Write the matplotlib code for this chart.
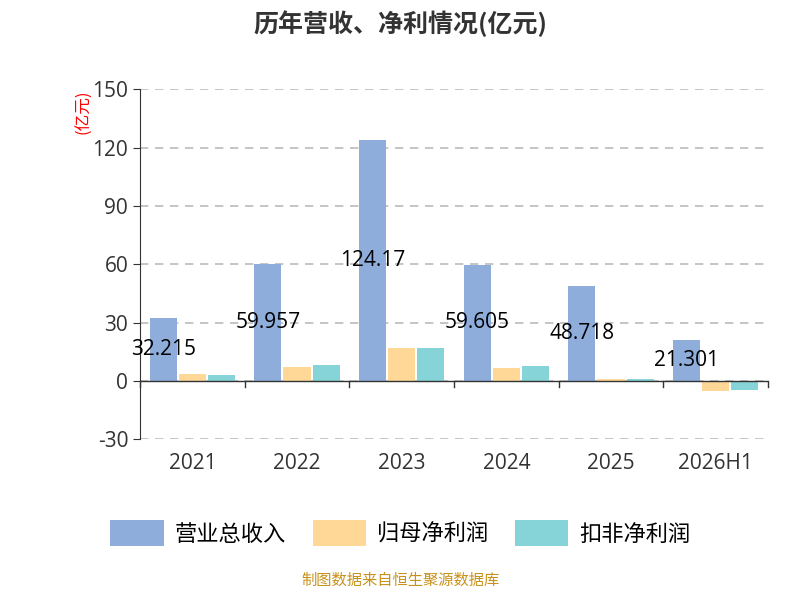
import matplotlib
matplotlib.use("Agg")
import matplotlib.pyplot as plt
import numpy as np

plt.rcParams['font.family'] = ['Open Sans', 'Noto Sans CJK SC', 'DejaVu Sans']
plt.rcParams['axes.unicode_minus'] = False

categories = ["2021", "2022", "2023", "2024", "2025", "2026H1"]
revenue = [32.215, 59.957, 124.17, 59.605, 48.718, 21.301]
net_profit = [3.6, 7.2, 17.0, 6.7, 1.2, -5.0]
deducted_profit = [3.1, 8.2, 17.0, 7.5, 1.2, -4.6]
series_names = ["营业总收入", "归母净利润", "扣非净利润"]
colors = ["#8eaddb", "#ffd898", "#86d4d8"]

fig = plt.figure(figsize=(8, 6), dpi=100)
ax = fig.add_axes([0.175, 0.268, 0.785, 0.583])
x = np.arange(len(categories))
w = 0.26
for i, (vals, name, c) in enumerate(zip([revenue, net_profit, deducted_profit], series_names, colors)):
    ax.bar(x + (i - 1) * w * 1.07, vals, w, color=c, label=name, zorder=3)
for xi, v in zip(x, revenue):
    ax.text(xi - w * 1.07, v / 2, f"{v:g}", ha="center", va="center", fontsize=15, color="black", zorder=4)

ax.set_xlim(-0.5, 5.5)
ax.set_ylim(-30, 150)
ax.set_yticks(range(-30, 151, 30))
ax.tick_params(axis="y", labelsize=15, colors="#333333", length=5)
ax.tick_params(axis="x", labelsize=15, colors="#333333", length=0, pad=10)
ax.set_xticks(x)
ax.set_xticklabels(categories)
ax.grid(axis="y", linestyle=(0, (5, 4)), color="#bbbbbb", lw=1.2, zorder=0)
for s in ["top", "right", "bottom"]:
    ax.spines[s].set_visible(False)
ax.spines["left"].set_color("#333333")
ax.axhline(0, color="#333333", lw=1, zorder=5)
for b in np.arange(-0.5, 5.6, 1):
    ax.plot([b, b], [0, -3], color="#333333", lw=1, clip_on=False, zorder=5)
ax.text(-0.09, 1.0, "(亿元)", transform=ax.transAxes, rotation=90, color="red", fontsize=12, ha="center", va="top",
        family=['Noto Sans CJK SC'])

fig.text(0.5, 0.96, "历年营收、净利情况(亿元)", ha="center", va="center", fontsize=18, fontweight="bold", color="#333333",
         family=['Noto Sans CJK SC'])
leg = ax.legend(loc="upper center", bbox_to_anchor=(0.415, -0.175), ncol=3, frameon=False,
                prop={'family': 'Noto Sans CJK SC', 'size': 16},
                handlelength=2.4, handleheight=1.4, columnspacing=1.2, handletextpad=0.5)
fig.text(0.5, 0.018, "制图数据来自恒生聚源数据库", ha="center", va="bottom", fontsize=11, color="#c8921a",
         family=['Noto Sans CJK SC'])
fig.savefig("out.png")
